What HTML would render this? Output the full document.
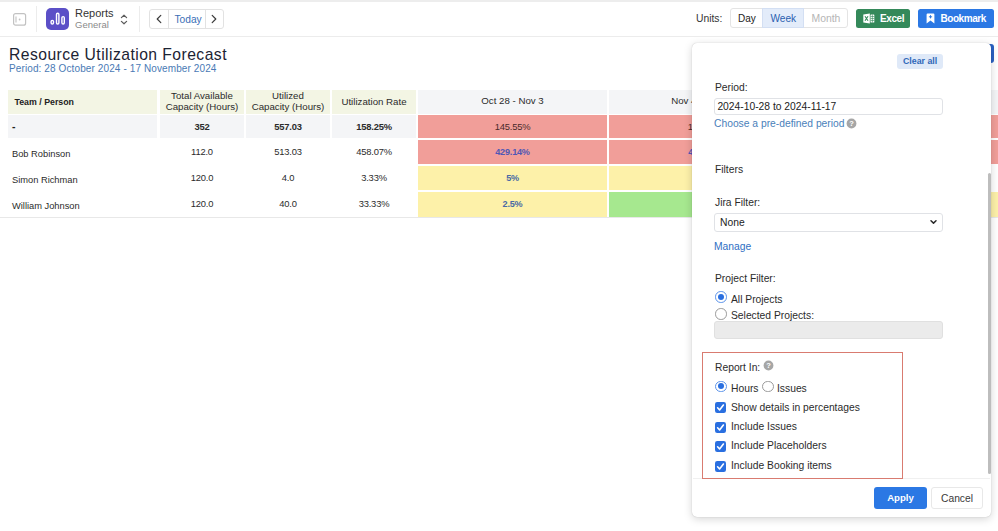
<!DOCTYPE html>
<html><head><meta charset="utf-8">
<style>
*{box-sizing:border-box;margin:0;padding:0}
html,body{width:998px;height:531px;overflow:hidden;background:#fff;font-family:"Liberation Sans",sans-serif;color:#222;}
.abs{position:absolute}
#top{position:absolute;left:0;top:0;width:998px;height:37px;border-top:2px solid #ededed;border-bottom:1px solid #ececec;background:#fff}
.vdiv{position:absolute;top:6px;width:1px;height:26px;background:#ececec}
.t{position:absolute;white-space:nowrap;line-height:1}
.cell{position:absolute;text-align:center;font-size:9.4px;line-height:12px;white-space:nowrap;color:#2b2b2b;letter-spacing:-0.2px}
.hd{font-size:9.7px;letter-spacing:0;margin-top:0}
</style></head><body>
<div id="top"></div>
<!-- sidebar icon -->
<svg class="abs" style="left:12px;top:11.5px" width="16" height="16" viewBox="0 0 16 16"><rect x="1.6" y="1.6" width="12" height="11.6" rx="2" fill="none" stroke="#c2c2c2" stroke-width="1.2"/><line x1="4" y1="4.4" x2="4" y2="10.6" stroke="#c2c2c2" stroke-width="1.1"/><circle cx="7.6" cy="7.5" r="0.9" fill="#c2c2c2"/></svg>
<div class="vdiv" style="left:36px"></div>
<!-- purple icon -->
<div class="abs" style="left:46px;top:8px;width:23px;height:22px;border-radius:5px;background:#5b4fc7"></div>
<svg class="abs" style="left:46px;top:8px" width="23" height="22" viewBox="0 0 23 22"><g fill="none" stroke="#fff" stroke-width="1.4"><rect x="5.1" y="12.4" width="2.4" height="3.6" rx="1.2"/><rect x="10.5" y="5.2" width="2.4" height="10.8" rx="1.2"/><rect x="15.9" y="8.6" width="2.4" height="7.4" rx="1.2"/></g></svg>
<div class="t" style="left:75px;top:8px;font-size:11px;color:#333">Reports</div>
<div class="t" style="left:75px;top:20px;font-size:9.5px;color:#8a8a8a">General</div>
<svg class="abs" style="left:119px;top:13px" width="10" height="13" viewBox="0 0 10 13"><path d="M2.4 4.6 L5 2.2 L7.6 4.6 M2.4 8.4 L5 10.8 L7.6 8.4" fill="none" stroke="#5a5a5a" stroke-width="1.2" stroke-linecap="round" stroke-linejoin="round"/></svg>
<div class="vdiv" style="left:139px"></div>
<!-- nav buttons -->
<div class="abs" style="left:149px;top:9px;width:75px;height:20px;border:1px solid #e2e2e2;border-radius:3px;background:#fff"></div>
<div class="abs" style="left:168px;top:9px;width:1px;height:20px;background:#e2e2e2"></div>
<div class="abs" style="left:205px;top:9px;width:1px;height:20px;background:#e2e2e2"></div>
<svg class="abs" style="left:154px;top:13px" width="10" height="12" viewBox="0 0 10 12"><path d="M6.8 2.4 L3.2 6 L6.8 9.6" fill="none" stroke="#3a3a3a" stroke-width="1.2" stroke-linecap="round" stroke-linejoin="round"/></svg>
<svg class="abs" style="left:209px;top:13px" width="10" height="12" viewBox="0 0 10 12"><path d="M3.2 2.4 L6.8 6 L3.2 9.6" fill="none" stroke="#3a3a3a" stroke-width="1.2" stroke-linecap="round" stroke-linejoin="round"/></svg>
<div class="t" style="left:174.5px;top:14.5px;font-size:10.2px;color:#3b6fb6">Today</div>

<!-- right controls -->
<div class="t" style="left:696px;top:13.5px;font-size:10.3px;color:#333">Units:</div>
<div class="abs" style="left:729.5px;top:7.8px;width:118.5px;height:20.4px;border:1px solid #e4e4e4;border-radius:3px;background:#fff"></div>
<div class="abs" style="left:762px;top:7.8px;width:42px;height:20.4px;background:#e3ecfa;border:1px solid #d3dff3"></div>
<div class="t" style="left:738px;top:13.5px;font-size:10px;color:#222">Day</div>
<div class="t" style="left:770.5px;top:13.5px;font-size:10.1px;color:#2a5fb0">Week</div>
<div class="t" style="left:811.5px;top:13.5px;font-size:10.4px;color:#b5b5b5">Month</div>
<div class="abs" style="left:856px;top:8.5px;width:54px;height:19px;border-radius:2.5px;background:#34895a"></div>
<div class="t" style="left:880px;top:13.5px;font-size:10px;font-weight:bold;color:#fff;letter-spacing:-0.4px">Excel</div>
<div class="abs" style="left:917.5px;top:8.5px;width:76px;height:19px;border-radius:2.5px;background:#2b78e4"></div>
<div class="t" style="left:940.5px;top:13.5px;font-size:10px;font-weight:bold;color:#fff;letter-spacing:-0.45px">Bookmark</div>

<svg class="abs" style="left:862.5px;top:12.5px" width="12" height="11" viewBox="0 0 12 11"><path d="M0.3 1.5 L6.8 0.4 V10.6 L0.3 9.5 Z" fill="#fff"/><path d="M2 3.2 L5 7.8 M5 3.2 L2 7.8" stroke="#34895a" stroke-width="1.1" fill="none"/><rect x="7.5" y="1.4" width="3.8" height="8.2" rx="0.6" fill="#fff"/><path d="M7.5 3.5 H11.3 M7.5 5.5 H11.3 M7.5 7.5 H11.3 M9.4 1.4 V9.6" stroke="#34895a" stroke-width="0.6"/></svg>
<svg class="abs" style="left:925.5px;top:12.8px" width="9" height="11" viewBox="0 0 9 11"><path d="M0.6 1.4 Q0.6 0.4 1.6 0.4 H7.4 Q8.4 0.4 8.4 1.4 V10.4 L4.5 7.6 L0.6 10.4 Z" fill="#fff"/><path d="M4.5 2.2 V5.4 M2.9 3.8 H6.1" stroke="#2b78e4" stroke-width="1" fill="none"/></svg>
<!-- title -->
<div class="t" style="left:9px;top:47px;font-size:15.7px;color:#1c2333;letter-spacing:0.45px">Resource Utilization Forecast</div>
<div class="t" style="left:9px;top:64px;font-size:10px;color:#4a7ab5;letter-spacing:0.11px">Period: 28 October 2024 - 17 November 2024</div>
<div class="abs" style="left:975px;top:43.5px;width:19px;height:19px;border-radius:3px;background:#2a62c4"></div>

<!-- table -->
<div class="abs" style="left:8px;top:89.5px;width:149px;height:24px;background:#f3f5e4"></div>
<div class="abs" style="left:160px;top:89.5px;width:84px;height:24px;background:#f3f5e4"></div>
<div class="abs" style="left:246px;top:89.5px;width:84px;height:24px;background:#f3f5e4"></div>
<div class="abs" style="left:332px;top:89.5px;width:84px;height:24px;background:#f3f5e4"></div>
<div class="abs" style="left:418px;top:89.5px;width:189px;height:24px;background:#f4f5f7"></div>
<div class="abs" style="left:609px;top:89.5px;width:189px;height:24px;background:#f4f5f7"></div>
<div class="abs" style="left:800px;top:89.5px;width:198px;height:24px;background:#f4f5f7"></div>

<div class="abs" style="left:8px;top:114.7px;width:149px;height:23px;background:#f4f5f7"></div>
<div class="abs" style="left:160px;top:114.7px;width:84px;height:23px;background:#f4f5f7"></div>
<div class="abs" style="left:246px;top:114.7px;width:84px;height:23px;background:#f4f5f7"></div>
<div class="abs" style="left:332px;top:114.7px;width:84px;height:23px;background:#f4f5f7"></div>

<div class="abs" style="left:418px;top:114.6px;width:189px;height:23.2px;background:#f19e99"></div>
<div class="abs" style="left:609px;top:114.6px;width:389px;height:23.2px;background:#f19e99"></div>
<div class="abs" style="left:418px;top:140px;width:189px;height:24px;background:#f19e99"></div>
<div class="abs" style="left:609px;top:140px;width:389px;height:24px;background:#f19e99"></div>
<div class="abs" style="left:418px;top:166px;width:189px;height:24px;background:#fdf1a9"></div>
<div class="abs" style="left:609px;top:166px;width:189px;height:24px;background:#fdf1a9"></div>
<div class="abs" style="left:418px;top:192px;width:189px;height:25px;background:#fdf1a9"></div>
<div class="abs" style="left:609px;top:192px;width:189px;height:25px;background:#a6e88f"></div>
<div class="abs" style="left:800px;top:192px;width:198px;height:25px;background:#fdf1a9"></div>
<div class="abs" style="left:0;top:217px;width:998px;height:1px;background:#e8e8e8"></div>

<div class="t" style="left:14.5px;top:97.6px;font-size:8.8px;font-weight:bold;color:#222">Team / Person</div>
<div class="cell hd" style="left:160px;top:90px;width:84px;line-height:11px;font-weight:normal">Total Available<br>Capacity (Hours)</div>
<div class="cell hd" style="left:246px;top:90px;width:84px;line-height:11px">Utilized<br>Capacity (Hours)</div>
<div class="cell hd" style="left:332px;top:96px;width:84px">Utilization Rate</div>
<div class="cell hd" style="left:418px;top:95px;width:189px">Oct 28 - Nov 3</div>
<div class="cell hd" style="left:609px;top:95px;width:189px">Nov 4 - Nov 10</div>

<div class="t" style="left:12px;top:121px;font-size:10.5px;font-weight:bold">-</div>
<div class="cell" style="left:160px;top:121px;width:84px;font-weight:bold">352</div>
<div class="cell" style="left:246px;top:121px;width:84px;font-weight:bold">557.03</div>
<div class="cell" style="left:332px;top:121px;width:84px;font-weight:bold">158.25%</div>
<div class="cell" style="left:418px;top:121px;width:189px;color:#4a2a2a">145.55%</div>
<div class="cell" style="left:611px;top:121px;width:189px;color:#4a2a2a">145.55%</div>

<div class="t" style="left:12px;top:149.7px;font-size:9.3px;color:#2b2b2b">Bob Robinson</div>
<div class="cell" style="left:160px;top:146px;width:84px">112.0</div>
<div class="cell" style="left:246px;top:146px;width:84px">513.03</div>
<div class="cell" style="left:332px;top:146px;width:84px">458.07%</div>
<div class="cell" style="left:418px;top:146px;width:189px;color:#5057b5;font-weight:bold;font-size:9.1px">429.14%</div>
<div class="cell" style="left:611px;top:146px;width:189px;color:#5057b5;font-weight:bold;font-size:9.1px">429.14%</div>

<div class="t" style="left:12px;top:175.7px;font-size:9.3px;color:#2b2b2b">Simon Richman</div>
<div class="cell" style="left:160px;top:172px;width:84px">120.0</div>
<div class="cell" style="left:246px;top:172px;width:84px">4.0</div>
<div class="cell" style="left:332px;top:172px;width:84px">3.33%</div>
<div class="cell" style="left:418px;top:172px;width:189px;color:#4a6aa5;font-weight:bold;font-size:9.1px">5%</div>

<div class="t" style="left:12px;top:201.7px;font-size:9.3px;color:#2b2b2b">William Johnson</div>
<div class="cell" style="left:160px;top:198px;width:84px">120.0</div>
<div class="cell" style="left:246px;top:198px;width:84px">40.0</div>
<div class="cell" style="left:332px;top:198px;width:84px">33.33%</div>
<div class="cell" style="left:418px;top:198px;width:189px;color:#4a6aa5;font-weight:bold;font-size:9.1px">2.5%</div>
<div class="cell" style="left:609px;top:198px;width:189px;color:#4a6aa5;font-weight:bold;font-size:9.1px">95%</div>

<!-- panel -->
<div id="panel" class="abs" style="left:692px;top:43px;width:299px;height:474.3px;background:#fff;border-radius:5px;box-shadow:0 2px 9px rgba(0,0,0,.17),0 0 1px rgba(0,0,0,.25)"></div>
<style>
.p{position:absolute;white-space:nowrap;line-height:12px;font-size:10.3px;color:#2b2b2b;margin-top:1px}
.lnk{color:#4a7fba}
.inp{position:absolute;left:714px;width:229px;border:1px solid #e0e2e6;border-radius:3px;background:#fff}
.rad{position:absolute;width:11.5px;height:11.5px;border-radius:50%;border:1px solid #9a9a9a;background:#fff}
.rad.on{border:1px solid #5b93ea;background:#fff}
.rad.on::after{content:"";position:absolute;left:1.5px;top:1.5px;width:6px;height:6px;border-radius:50%;background:#2a6fe0}
.chk{position:absolute;left:715.2px;width:11px;height:11px;border-radius:2.2px;background:#2a6fe0}
</style>
<div class="abs" style="left:897px;top:53.5px;width:46px;height:15.3px;border-radius:3px;background:#dfe9f8"></div>
<div class="p" style="left:903px;top:56px;font-size:8.8px;font-weight:bold;color:#3068b8;line-height:11px;margin-top:0">Clear all</div>
<div class="p" style="left:715px;top:81px">Period:</div>
<div class="inp" style="top:97.6px;height:17.6px"></div>
<div class="p" style="left:717.4px;top:100px;color:#222">2024-10-28 to 2024-11-17</div>
<div class="p lnk" style="left:714px;top:117px">Choose a pre-defined period</div>
<svg class="abs" style="left:846px;top:118px" width="11" height="11" viewBox="0 0 11 11"><circle cx="5.5" cy="5.5" r="4.9" fill="#a6a6a6"/><text x="5.5" y="8.3" font-size="7.5" font-weight="bold" text-anchor="middle" fill="#fff" font-family="Liberation Sans">?</text></svg>
<div class="p" style="left:715px;top:163px">Filters</div>
<div class="p" style="left:715px;top:196px">Jira Filter:</div>
<div class="inp" style="top:212.8px;height:18.8px"></div>
<div class="p" style="left:720px;top:216px;color:#222">None</div>
<svg class="abs" style="left:929px;top:218px" width="9" height="8" viewBox="0 0 9 8"><path d="M2 2.7 L4.5 5.1 L7 2.7" fill="none" stroke="#2a2a2a" stroke-width="1.5" stroke-linecap="round" stroke-linejoin="round"/></svg>
<div class="p lnk" style="left:714px;top:240px;color:#2f6fc4">Manage</div>
<div class="p" style="left:715px;top:272px">Project Filter:</div>
<div class="rad on" style="left:715px;top:291.4px"></div>
<div class="p" style="left:731px;top:293px">All Projects</div>
<div class="rad" style="left:715px;top:308px"></div>
<div class="p" style="left:731px;top:309px">Selected Projects:</div>
<div class="abs" style="left:714px;top:321px;width:229px;height:18px;border:1px solid #e0e0e0;border-radius:3px;background:#ebebeb"></div>
<div class="abs" style="left:693px;top:477.5px;width:297px;height:1px;background:#f0f0f0"></div>
<div class="abs" style="left:701.5px;top:352px;width:201.3px;height:127px;border:1.5px solid #d97b70"></div>
<div class="p" style="left:715px;top:361px">Report In:</div>
<svg class="abs" style="left:763px;top:360px" width="11" height="11" viewBox="0 0 11 11"><circle cx="5.5" cy="5.5" r="4.9" fill="#a6a6a6"/><text x="5.5" y="8.3" font-size="7.5" font-weight="bold" text-anchor="middle" fill="#fff" font-family="Liberation Sans">?</text></svg>
<div class="rad on" style="left:715px;top:380.7px"></div>
<div class="p" style="left:731px;top:382px">Hours</div>
<div class="rad" style="left:762px;top:380.7px"></div>
<div class="p" style="left:777px;top:382px">Issues</div>
<svg class="chk" style="top:402.2px" viewBox="0 0 11 11"><path d="M2.6 5.8 L4.6 8 L8.4 3" fill="none" stroke="#fff" stroke-width="1.6" stroke-linecap="round" stroke-linejoin="round"/></svg><div class="p" style="left:731px;top:401px">Show details in percentages</div>
<svg class="chk" style="top:421.6px" viewBox="0 0 11 11"><path d="M2.6 5.8 L4.6 8 L8.4 3" fill="none" stroke="#fff" stroke-width="1.6" stroke-linecap="round" stroke-linejoin="round"/></svg><div class="p" style="left:731px;top:420px">Include Issues</div>
<svg class="chk" style="top:441px" viewBox="0 0 11 11"><path d="M2.6 5.8 L4.6 8 L8.4 3" fill="none" stroke="#fff" stroke-width="1.6" stroke-linecap="round" stroke-linejoin="round"/></svg><div class="p" style="left:731px;top:439px">Include Placeholders</div>
<svg class="chk" style="top:460.5px" viewBox="0 0 11 11"><path d="M2.6 5.8 L4.6 8 L8.4 3" fill="none" stroke="#fff" stroke-width="1.6" stroke-linecap="round" stroke-linejoin="round"/></svg><div class="p" style="left:731px;top:459px">Include Booking items</div>
<div class="abs" style="left:874px;top:487px;width:53px;height:21.6px;border-radius:3px;background:#2b78e4"></div>
<div class="p" style="left:874px;top:491px;width:53px;text-align:center;font-weight:bold;font-size:9.6px;color:#fff">Apply</div>
<div class="abs" style="left:931px;top:487px;width:52px;height:21.6px;border-radius:3px;background:#fff;border:1px solid #e8e8e8"></div>
<div class="p" style="left:931px;top:492px;width:52px;text-align:center;color:#3a3a3a">Cancel</div>
<div class="abs" style="left:987.5px;top:173px;width:3px;height:300.5px;background:#bdbdbd;border-radius:2px"></div>
</body></html>
